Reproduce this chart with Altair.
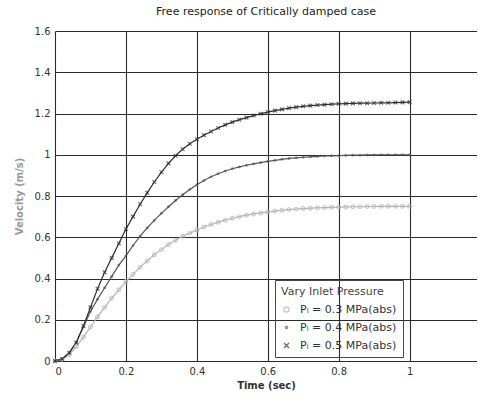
import altair as alt
import pandas as pd

# Sample times (s)
time_s = [0.00, 0.02, 0.04, 0.06, 0.08, 0.10, 0.12, 0.14, 0.16, 0.18,
          0.20, 0.22, 0.24, 0.26, 0.28, 0.30, 0.32, 0.34, 0.36, 0.38,
          0.40, 0.42, 0.44, 0.46, 0.48, 0.50, 0.52, 0.54, 0.56, 0.58,
          0.60, 0.62, 0.64, 0.66, 0.68, 0.70, 0.72, 0.74, 0.76, 0.78,
          0.80, 0.82, 0.84, 0.86, 0.88, 0.90, 0.92, 0.94, 0.96, 0.98,
          1.00]

# Velocity (m/s) for each inlet pressure
v_03 = [0.000, 0.008, 0.030, 0.070, 0.115, 0.165, 0.215, 0.260, 0.305, 0.345,
        0.385, 0.420, 0.455, 0.485, 0.515, 0.540, 0.565, 0.585, 0.605, 0.620,
        0.635, 0.650, 0.662, 0.673, 0.683, 0.692, 0.700, 0.707, 0.713, 0.718,
        0.723, 0.727, 0.731, 0.734, 0.737, 0.739, 0.741, 0.743, 0.744, 0.745,
        0.746, 0.747, 0.748, 0.748, 0.749, 0.749, 0.750, 0.750, 0.750, 0.750,
        0.750]
v_04 = [0.000, 0.010, 0.040, 0.090, 0.165, 0.240, 0.300, 0.355, 0.410, 0.465,
        0.510, 0.560, 0.605, 0.645, 0.682, 0.716, 0.748, 0.778, 0.806, 0.832,
        0.855, 0.875, 0.893, 0.908, 0.921, 0.932, 0.941, 0.949, 0.956, 0.962,
        0.968, 0.973, 0.978, 0.982, 0.985, 0.988, 0.990, 0.992, 0.994, 0.995,
        0.996, 0.997, 0.998, 0.998, 0.999, 0.999, 1.000, 1.000, 1.000, 1.000,
        1.000]
v_05 = [0.000, 0.010, 0.040, 0.090, 0.170, 0.260, 0.350, 0.430, 0.500, 0.570,
        0.640, 0.700, 0.760, 0.815, 0.868, 0.915, 0.958, 0.995, 1.027, 1.053,
        1.075, 1.095, 1.113, 1.130, 1.145, 1.158, 1.170, 1.180, 1.190, 1.199,
        1.207, 1.214, 1.220, 1.226, 1.231, 1.235, 1.238, 1.241, 1.243, 1.245,
        1.247, 1.248, 1.249, 1.250, 1.250, 1.251, 1.252, 1.252, 1.253, 1.254,
        1.255]

series_names = ["Pᵢ = 0.3 MPa(abs)", "Pᵢ = 0.4 MPa(abs)", "Pᵢ = 0.5 MPa(abs)"]
series_colors = ["#b4b4b4", "#555555", "#2e2e2e"]
# open circle, small dot, cross
series_shapes = ["circle",
                 "M-0.45,0A0.45,0.45 0 1,0 0.45,0A0.45,0.45 0 1,0 -0.45,0",
                 "M-1,-1L1,1M1,-1L-1,1"]
legend_title = "Vary Inlet Pressure"

rows = []
for name, vals in zip(series_names, [v_03, v_04, v_05]):
    for t, v in zip(time_s, vals):
        rows.append({"t": t, "v": v, "case": name})
df = pd.DataFrame(rows)

font = "DejaVu Sans"
x_enc = alt.X("t:Q", scale=alt.Scale(domain=[0, 1.19], nice=False),
              axis=alt.Axis(values=[0, 0.2, 0.4, 0.6, 0.8, 1.0, 1.2], format="~g",
                            title="Time (sec)", titleFontWeight="bold",
                            titleColor="#333", titlePadding=4))
y_enc = alt.Y("v:Q", scale=alt.Scale(domain=[0, 1.6], nice=False),
              axis=alt.Axis(values=[0, 0.2, 0.4, 0.6, 0.8, 1.0, 1.2, 1.4, 1.6],
                            format="~g", title="Velocity (m/s)",
                            titleColor="#999", titlePadding=10))

color_scale = alt.Scale(domain=series_names, range=series_colors)
shape_scale = alt.Scale(domain=series_names, range=series_shapes)

lines = alt.Chart(df).mark_line(strokeWidth=1.2).encode(
    x=x_enc, y=y_enc,
    color=alt.Color("case:N", scale=color_scale, title=legend_title),
)

points = alt.Chart(df).mark_point(filled=False, strokeWidth=1.2, size=14).encode(
    x=x_enc, y=y_enc,
    color=alt.Color("case:N", scale=color_scale, title=legend_title),
    shape=alt.Shape("case:N", scale=shape_scale, title=legend_title),
)

chart = (lines + points).properties(
    width=422, height=330,
    autosize=alt.AutoSizeParams(type="none"),
    padding={"left": 55, "top": 31, "right": 0, "bottom": 41},
    title=alt.TitleParams("Free response of Critically damped case", fontSize=11,
                          fontWeight="normal", color="#222", font=font, offset=9),
).configure_view(strokeWidth=0).configure_axis(
    labelFont=font, titleFont=font, labelFontSize=10, titleFontSize=10,
    labelColor="#333", grid=True, gridColor="#2a2a2a", gridWidth=1.1,
    gridOpacity=1, domain=False, ticks=False, labelPadding=5,
).configure_legend(
    orient="none", legendX=220, legendY=249, fillColor="rgba(0,0,0,0)",
    strokeColor="#444", padding=6, titleFont=font, labelFont=font,
    titleFontSize=11, labelFontSize=11, titleFontWeight="normal",
    titleColor="#444", labelColor="#333", rowPadding=6, symbolSize=25,
    symbolStrokeWidth=1.4, titlePadding=7, labelOffset=8,
)

chart.save("out.html", embed_options={"renderer": "svg", "actions": False})
